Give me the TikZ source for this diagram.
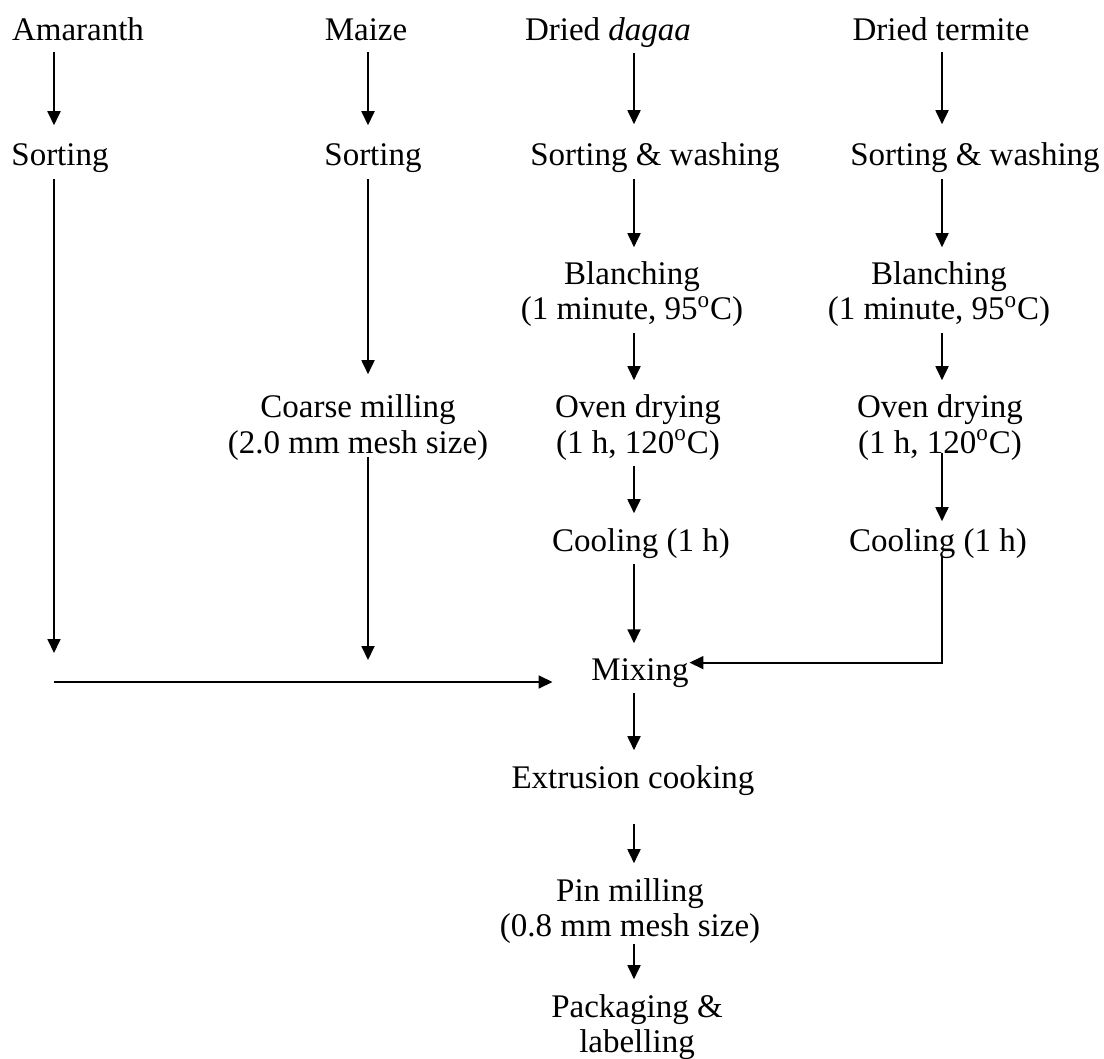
\documentclass[tikz,border=0pt]{standalone}
\usepackage{fontspec}
\setmainfont{Liberation Serif}
\usetikzlibrary{arrows.meta}
\begin{document}
\begin{tikzpicture}[x=0.5pt,y=-0.5pt,>={Triangle[width=6.5pt,length=7pt]},line width=0.9pt,
  every node/.style={inner sep=0pt,anchor=base,align=center,font=\fontsize{16.5}{17.5}\selectfont},
  arr/.style={->,shorten <=2.5pt,shorten >=7pt}]
\useasboundingbox (0,0) rectangle (1104,1059);
\coordinate (cA) at (54,0);
\coordinate (cM) at (368,0);
\coordinate (cD) at (634,0);
\coordinate (cT) at (942,0);
\node(amar) at (78,41){Amaranth};
\node(maize) at (366,41){Maize};
\node(dagaa) at (608,41){Dried \textit{dagaa}};
\node(termite) at (941,41){Dried termite};
\node(sortA) at (60,166){Sorting};
\node(sortM) at (373,166){Sorting};
\node(sortD) at (655,166){Sorting \& washing};
\node(sortT) at (975,166){Sorting \& washing};
\node(blanchD) at (632,320){Blanching\\(1 minute, 95\textsuperscript{o}C)};
\node(blanchT) at (939,320){Blanching\\(1 minute, 95\textsuperscript{o}C)};
\node(coarse) at (358,453){Coarse milling\\(2.0 mm mesh size)};
\node(ovenD) at (638,453){Oven drying\\(1 h, 120\textsuperscript{o}C)};
\node(ovenT) at (940,453){Oven drying\\(1 h, 120\textsuperscript{o}C)};
\node(coolD) at (641,551){Cooling (1 h)};
\node(coolT) at (938,551){Cooling (1 h)};
\node(mix) at (640,680){Mixing};
\node(extr) at (633,788){Extrusion cooking};
\node(pin) at (630,936){Pin milling\\(0.8 mm mesh size)};
\node(pack) at (637,1052){Packaging \&\\labelling};
\coordinate(amarEnd) at (54,653);
\coordinate(maizeEnd) at (368,660);
\coordinate(join) at (54,682);
% raw materials
\draw[arr,shorten <=5pt,shorten >=9pt](amar.south -| cA)--(sortA.north -| cA);
\draw[arr,shorten <=5pt,shorten >=9pt](maize.south -| cM)--(sortM.north -| cM);
\draw[arr,shorten <=2pt,shorten >=9pt](dagaa.south -| cD)--(sortD.north -| cD);
\draw[arr,shorten <=5pt,shorten >=9pt](termite.south -| cT)--(sortT.north -| cT);
% amaranth and maize
\draw[arr,shorten >=0pt](sortA.south -| cA)--(amarEnd);
\draw[arr,shorten >=10pt](sortM.south -| cM)--(coarse.north -| cM);
\draw[arr,shorten <=-2pt,shorten >=0pt](coarse.south -| cM)--(maizeEnd);
\draw[arr,shorten <=0pt,shorten >=19pt](join)--(join -| mix.west);
% dagaa
\draw[arr](sortD.south -| cD)--(blanchD.north -| cD);
\draw[arr](blanchD.south -| cD)--(ovenD.north -| cD);
\draw[arr](ovenD.south -| cD)--(coolD.north -| cD);
\draw[arr](coolD.south -| cD)--(mix.north -| cD);
% termite
\draw[arr](sortT.south -| cT)--(blanchT.north -| cT);
\draw[arr](blanchT.south -| cT)--(ovenT.north -| cT);
\draw[arr,shorten <=-4pt,shorten >=3pt](ovenT.south -| cT)--(coolT.north -| cT);
\draw[arr,shorten <=-1pt,shorten >=0pt](coolT.south -| cT)|-([yshift=5pt]mix.east);
% after mixing
\draw[arr](mix.south -| cD)--(extr.north -| cD);
\draw[arr,shorten <=14pt](extr.south -| cD)--(pin.north -| cD);
\draw[arr,shorten <=0pt](pin.south -| cD)--(pack.north -| cD);
\end{tikzpicture}
\end{document}
